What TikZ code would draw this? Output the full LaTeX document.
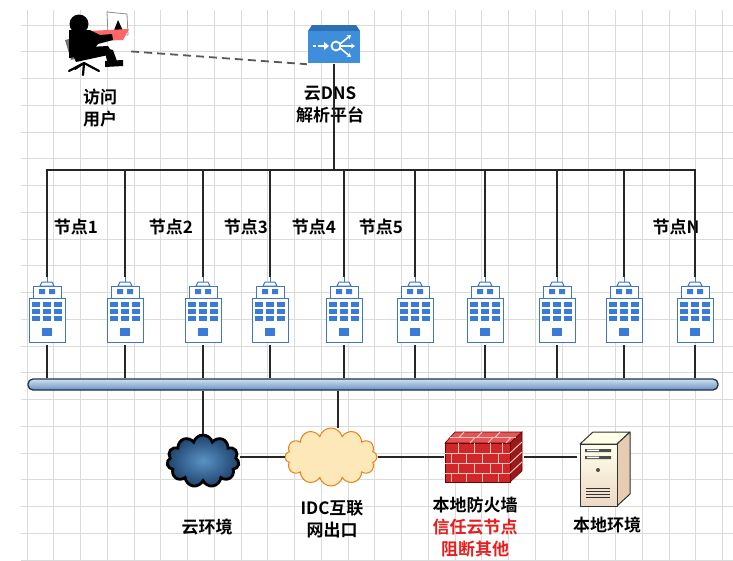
\documentclass[tikz,border=0pt]{standalone}
\usepackage{fontspec}
\newfontfamily\cjk{Noto Sans CJK SC}[BoldFont={Noto Sans CJK SC Bold}]
\usetikzlibrary{shapes.symbols,arrows.meta,positioning}

\definecolor{bldgline}{HTML}{3F76C6}
\definecolor{bldgwin}{HTML}{3A7AD8}
\definecolor{dnsblue}{HTML}{3E8EDC}
\definecolor{dnsdark}{HTML}{2E6FB4}
\definecolor{fwred}{HTML}{D02828}
\definecolor{fwtop}{HTML}{E25656}
\definecolor{fwside}{HTML}{981A1A}
\definecolor{alertred}{HTML}{E81E1E}
\definecolor{bustop}{HTML}{CFE0F2}
\definecolor{busbot}{HTML}{6A92C0}
\definecolor{busline}{HTML}{23324A}
\definecolor{cloudin}{HTML}{5A93C6}
\definecolor{cloudout}{HTML}{1E426C}

% icons, drawn round the centre of the node that holds them
\newcommand\drawbuilding{%
  \begin{scope}[shift={(path picture bounding box.center)}, draw=bldgline, line width=1pt]
    \draw (0,-34) -- (0,-29);
    \filldraw[fill=white] (-7,-25) -- (-5,-29) -- (5,-29) -- (7,-25) -- cycle;
    \filldraw[fill=white] (-14,-25) rectangle (14,-13);
    \filldraw[fill=white] (-18,-13) rectangle (18,31);
    \fill[bldgwin] (-8,-22) rectangle (-2,-17) (2,-22) rectangle (8,-17);
    \foreach \wx in {-11,0,11}
      \foreach \wy in {-7,0,7}
        \fill[bldgwin] (\wx-4,\wy-2.5) rectangle (\wx+4,\wy+2.5);
    \fill[bldgwin] (-5,17) rectangle (5,25);
  \end{scope}}

\newcommand\drawdns{%
  \begin{scope}[shift={(path picture bounding box.center)}]
    \fill[dnsdark] (-22,-19) -- (22,-19) -- (26,-13) -- (-26,-13) -- cycle;
    \fill[dnsblue] (-26,-13) rectangle (26,19);
    \draw[white, line width=1.8pt] (-21,2) -- (-18,2) (-16,2) -- (-10,2);
    \fill[white] (-10,-2) -- (-5,2) -- (-10,6) -- cycle;
    \draw[white, line width=1.8pt] (2,2) circle (4.5);
    \draw[white, line width=1.6pt, -{Stealth[length=4pt,width=5pt]}]
      (6,0) -- (17,-9);
    \draw[white, line width=1.6pt, -{Stealth[length=4pt,width=5pt]}]
      (7,2) -- (21,2);
    \draw[white, line width=1.6pt, -{Stealth[length=4pt,width=5pt]}]
      (6,4) -- (17,13);
  \end{scope}}

\newcommand\drawuser{%
  \begin{scope}[shift={(path picture bounding box.center)}]
    % screen and keyboard
    \filldraw[fill=white, draw=black!45, line width=0.8pt] (11,-30) -- (31,-28) -- (32,-7) -- (12,-8) -- cycle;
    \fill[black] (17,-9) -- (22,-22) -- (28,-9) -- cycle;
    \fill[red!60!white] (-8,-11) -- (33,-13) -- (27,-2) -- (-3,-1) -- cycle;
    % chair
    \fill[black!55] (-31,-2) -- (-23,-4) -- (-17,16) -- (-25,18) -- cycle;
    \draw[black, line width=2.2pt, line cap=round]
      (-12,21) -- (-27,29) (-12,21) -- (3,29) (-12,21) -- (-13,33) (-12,21) -- (-21,27);
    % person
    \fill[black] (-17,-18) circle (9.5);
    \fill[black] (-27,-12) -- (-6,-12) -- (4,-7) -- (16,-8) -- (17,-2) -- (2,2) -- (-6,13) -- (-27,16) -- cycle;
    \fill[black] (-26,6) -- (12,4) -- (17,12) -- (-20,20) -- cycle;
    \fill[black] (8,6) -- (17,8) -- (22,22) -- (12,23) -- cycle;
    \fill[black] (9,19) -- (27,18) -- (27,24) -- (9,25) -- cycle;
  \end{scope}}

\newcommand\drawfirewall{%
  \begin{scope}[shift={(path picture bounding box.center)}, draw=red!45!black, line width=0.6pt]
    \filldraw[fill=fwtop] (-39,-14) -- (-29,-25) -- (38,-25) -- (26,-14) -- cycle;
    \filldraw[fill=fwside] (26,-14) -- (38,-25) -- (38,14) -- (26,25) -- cycle;
    \filldraw[fill=fwred] (-39,-14) rectangle (26,25);
    \begin{scope}[draw=red!25!white, line width=1pt]
      \draw (-39,-4) -- (26,-4) (-39,6) -- (26,6) (-39,16) -- (26,16);
      \foreach \bx in {-26,-10,6,18} \draw (\bx,-14) -- (\bx,-4) (\bx,6) -- (\bx,16);
      \foreach \bx in {-33,-18,-2,14} \draw (\bx,-4) -- (\bx,6) (\bx,16) -- (\bx,25);
      \draw (-34,-19.5) -- (32,-19.5);
      \foreach \bx in {-20,-2,16} \draw (\bx,-25) -- (\bx-5,-19.5);
      \foreach \bx in {-9,9,27} \draw (\bx,-19.5) -- (\bx-5,-14);
      \draw (26,-4) -- (38,-15) (26,6) -- (38,-5) (26,16) -- (38,5);
    \end{scope}
  \end{scope}}

\newcommand\drawserver{%
  \begin{scope}[shift={(path picture bounding box.center)}, draw=black!80, line width=1pt, line join=round]
    \filldraw[fill=yellow!10!white] (-27,-24) -- (-14,-36) -- (23,-36) -- (10,-24) -- cycle;
    \filldraw[fill=brown!40!white] (10,-24) -- (23,-36) -- (23,26) -- (10,38) -- cycle;
    \shade[top color=yellow!8!white, bottom color=brown!30!white] (-27,-24) rectangle (10,38);
    \draw (-27,-24) rectangle (10,38);
    \fill[black!70] (-22,-19) rectangle (4,-16) (-22,-12) rectangle (4,-9);
    \fill[white] (-20,-18.3) rectangle (-8,-17) (-20,-11.3) rectangle (-8,-10);
    \fill[black!70] (-9,2) circle (2);
    \foreach \vy in {20,23,26,29} \draw[line width=0.8pt] (-21,\vy) -- (3,\vy);
  \end{scope}}

\begin{document}
\begin{tikzpicture}[x=1pt, y=-1pt,
  wire/.style={draw=black!85, line width=1.2pt},
  grid_line/.style={draw=black!14, line width=0.8pt},
  tag_text/.style={font=\cjk\bfseries\fontsize{17}{22}\selectfont, align=center, inner sep=0pt},
  bldg_node/.style={minimum width=40pt, minimum height=68pt, inner sep=0pt, path picture={\drawbuilding}},
  icon_node/.style={inner sep=0pt}]

  \useasboundingbox (0,0) rectangle (733,560);
  \fill[white] (0,0) rectangle (733,560);

  % background grid
  \begin{scope}
    \clip (21,10) rectangle (733,560);
    \foreach \gx in {0,...,26} \draw[grid_line] ({27+26.75*\gx},10) -- ({27+26.75*\gx},560);
    \foreach \gy in {0,...,20} \draw[grid_line] (21,{25+26.75*\gy}) -- (733,{25+26.75*\gy});
  \end{scope}

  % top: user and DNS platform
  \node[icon_node, minimum width=70pt, minimum height=66pt, path picture={\drawuser}] (user) at (96,42) {};
  \node[icon_node, minimum width=54pt, minimum height=40pt, path picture={\drawdns}] (dns) at (334,44) {};
  \node[tag_text] (user_lbl) at (100,108) {访问\\用户};
  \node[tag_text] (dns_lbl) at (330,105) {云DNS\\解析平台};
  \coordinate (hub) at (334,170);

  % cloud nodes
  \foreach \n/\bx in {1/47,2/125,3/203,4/270,5/344,6/415,7/485,8/557,9/624,10/695}
    \node[bldg_node] (b\n) at (\bx,311) {};

  \node[tag_text] (t1) at (76,227) {节点1};
  \node[tag_text] (t2) at (171,227) {节点2};
  \node[tag_text] (t3) at (246,227) {节点3};
  \node[tag_text] (t4) at (314,227) {节点4};
  \node[tag_text] (t5) at (381,227) {节点5};
  \node[tag_text] (tN) at (676,227) {节点N};

  % backbone
  \node[draw=busline, line width=1.3pt, rounded corners=5pt, minimum width=690pt, minimum height=11pt,
        inner sep=0pt, top color=bustop, bottom color=busbot] (bus) at (373,384.5) {};

  % bottom row
  \node[cloud, cloud puffs=11, aspect=1.4, minimum width=72pt, minimum height=52pt, draw=black, line width=2.8pt,
        inner color=cloudin, outer color=cloudout] (cloud_a) at (203,461) {};
  \node[cloud, cloud puffs=12, aspect=1.5, minimum width=92pt, minimum height=58pt, draw=orange!70!brown,
        line width=1pt, fill=yellow!35!orange!25!white] (cloud_b) at (331,457) {};
  \node[icon_node, minimum width=80pt, minimum height=52pt, path picture={\drawfirewall}] (fw) at (484,457) {};
  \node[icon_node, minimum width=60pt, minimum height=78pt, path picture={\drawserver}] (srv) at (607,468) {};

  \node[tag_text] (cloud_lbl) at (207,527) {云环境};
  \node[tag_text] (idc_lbl) at (332,519) {IDC互联\\网出口};
  \node[tag_text] (fw_lbl) at (475,527) {本地防火墙\\\textcolor{alertred}{信任云节点}\\\textcolor{alertred}{阻断其他}};
  \node[tag_text] (srv_lbl) at (607,525) {本地环境};

  % connectors
  \draw[draw=black!65, line width=1.8pt, dash pattern=on 8pt off 5pt] (user.-15) -- (dns.south west);
  \draw[wire] (dns) -- (hub);
  \foreach \n in {1,...,10} {
    \draw[wire] (b\n.north) |- (hub);
    \draw[wire] (b\n.south) -- (b\n.south |- bus.north);
  }
  \draw[wire] (bus.south -| cloud_a.north) -- (cloud_a.north);
  \draw[wire] (bus.south -| 338,0) -- ([xshift=7pt]cloud_b.north);
  \draw[wire] (cloud_b.west -| cloud_a.east) -- (cloud_b.west);
  \draw[wire] (cloud_b.east) -- (fw.west);
  \draw[wire] (fw.east) -- (fw.east -| srv.west);
\end{tikzpicture}
\end{document}
